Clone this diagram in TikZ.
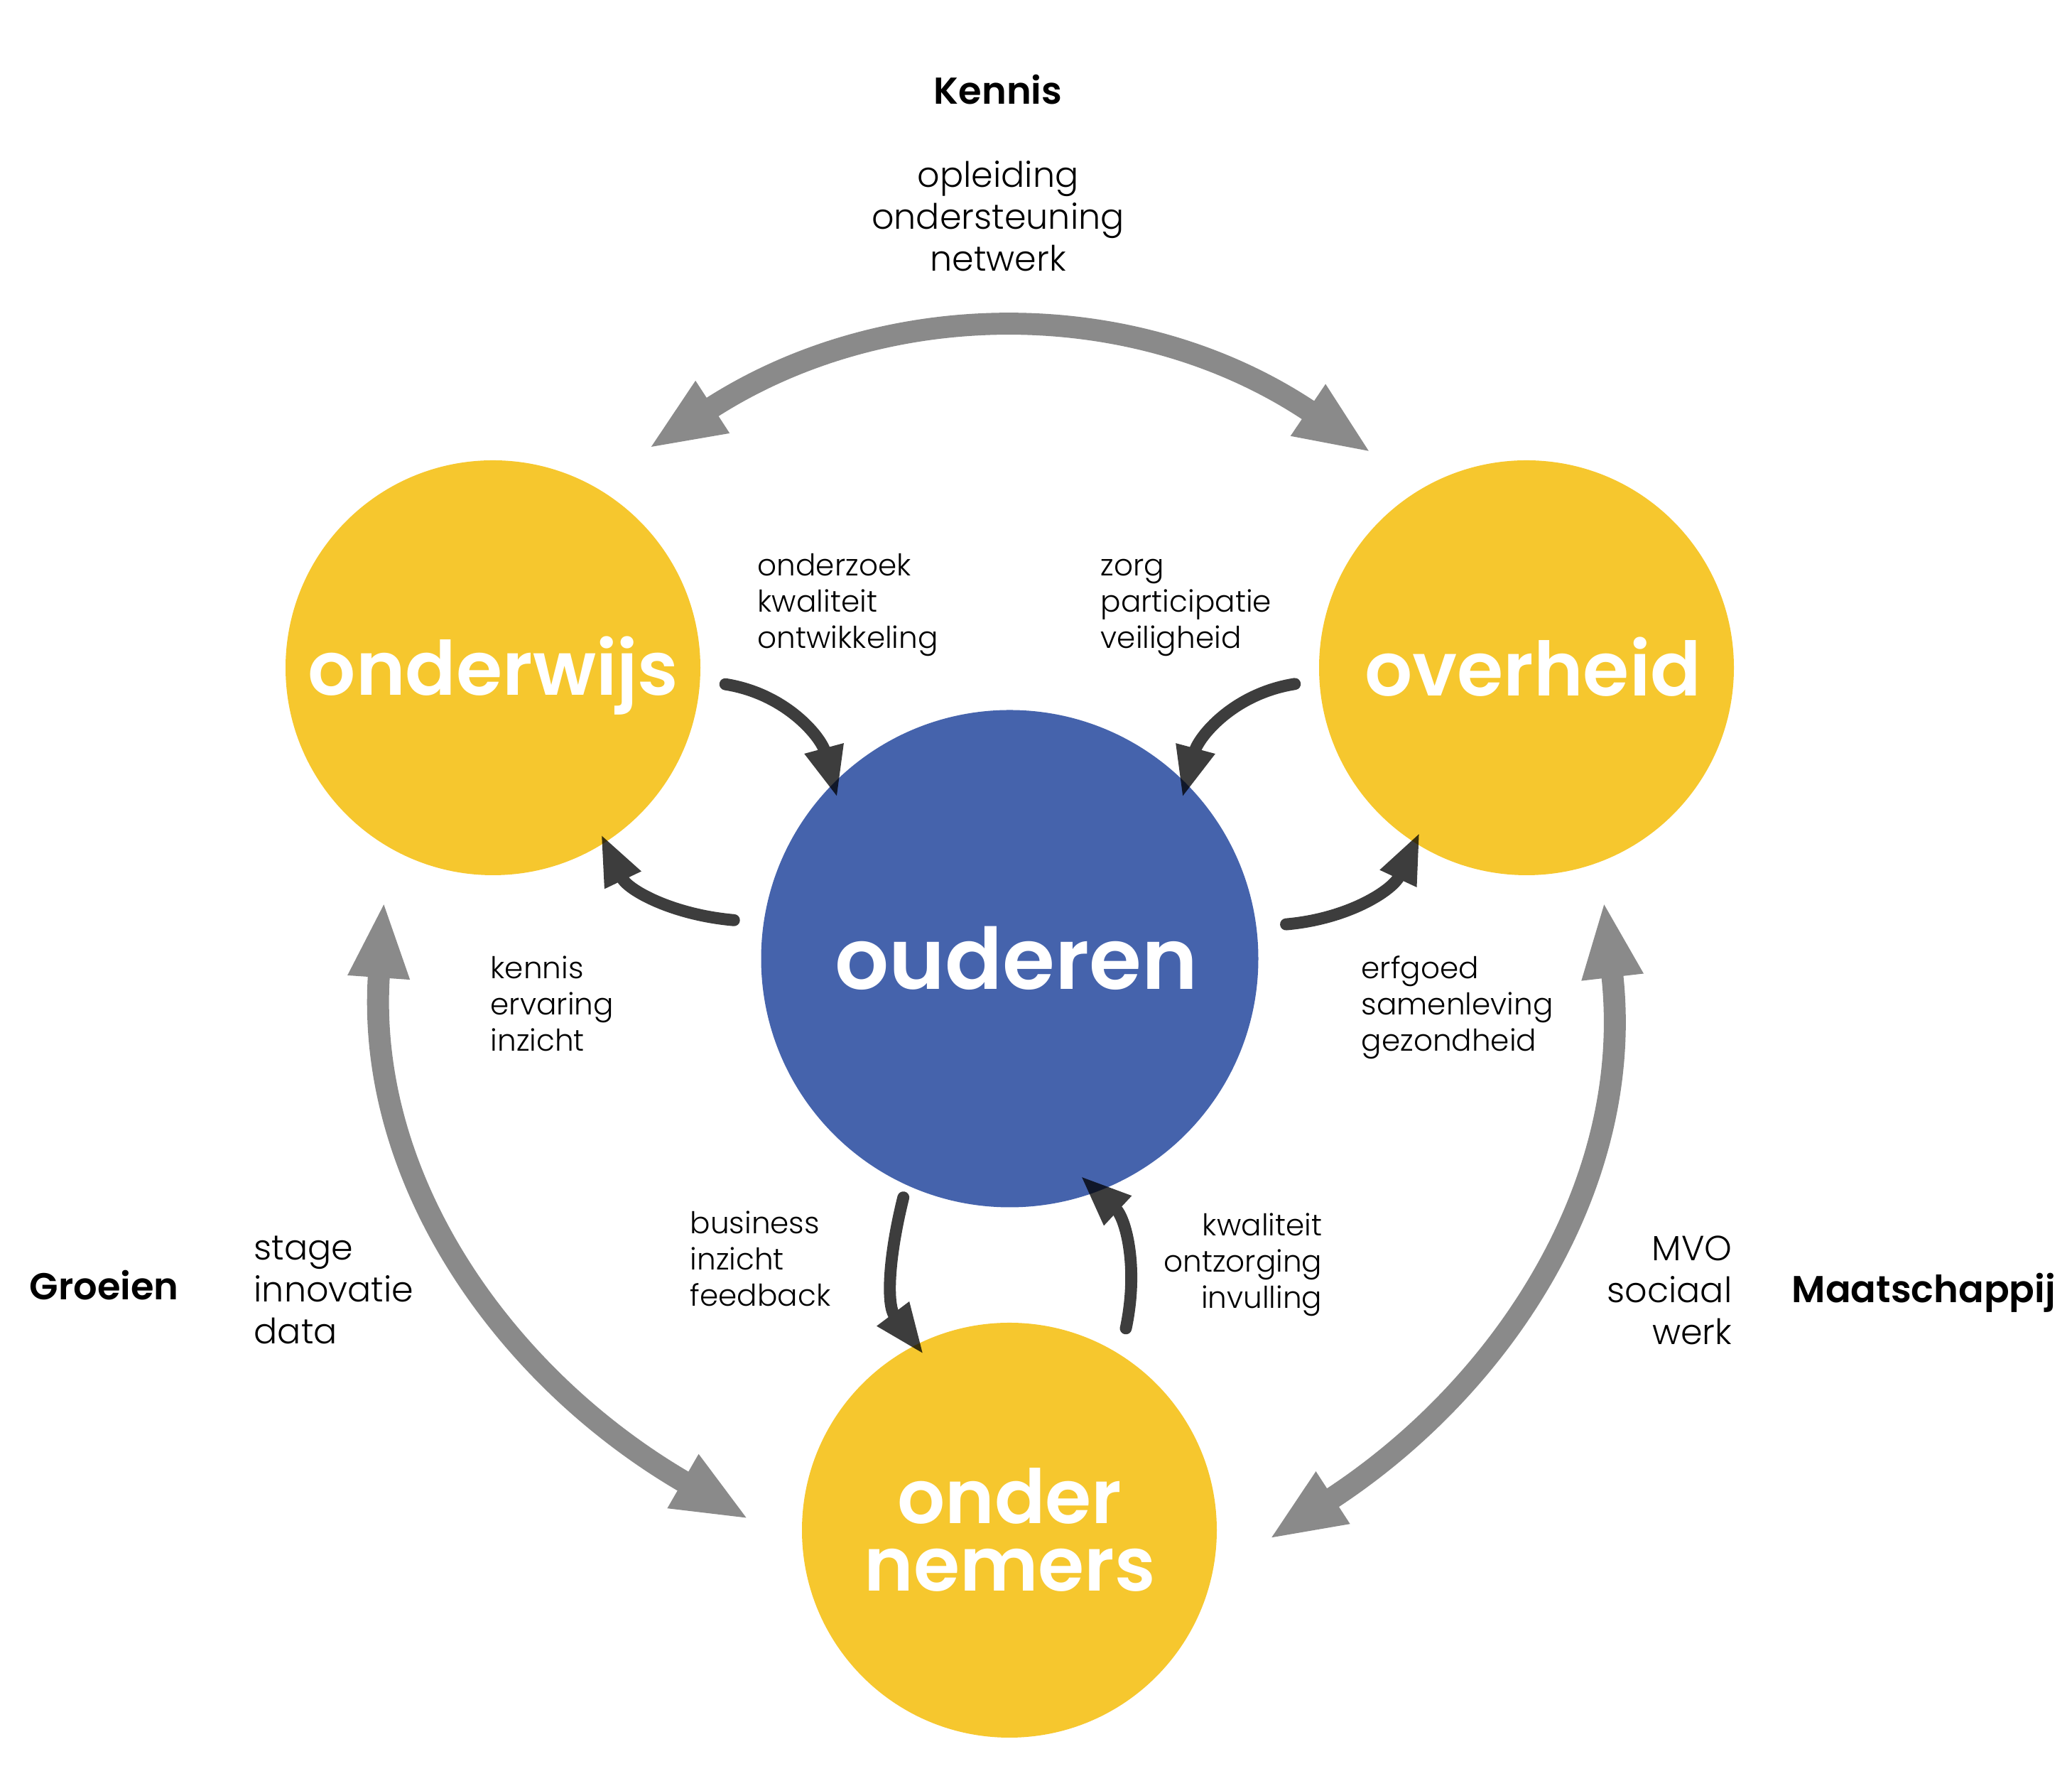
\documentclass[tikz,border=0pt]{standalone}
\usepackage{fontspec}
\setmainfont{Poppins}[UprightFont=* Light,BoldFont=* SemiBold]
\usetikzlibrary{arrows.meta}
\definecolor{geel}{RGB}{246,199,46}
\definecolor{blauw}{RGB}{69,99,172}
\definecolor{grijs}{RGB}{138,138,138}
\tikzset{
  bol/.style={circle,fill=geel,minimum size=5.84cm,inner sep=0,outer sep=0},
  kern/.style={bol,fill=blauw,minimum size=7cm},
  naam/.style={anchor=base,align=center,text=white,font=\bfseries\fontsize{30}{27.2}\selectfont},
  kop/.style={anchor=base west,inner sep=0,font=\bfseries\fontsize{15}{18}\selectfont},
  rij/.style={anchor=base west,align=left,inner sep=0,font=\fontsize{14}{16.9}\selectfont},
  klein/.style={anchor=base west,align=left,inner sep=0,font=\fontsize{12}{14.6}\selectfont},
  pijl/.style={line width=4.8pt,line cap=round,-{Triangle[length=7.2mm,width=5.2mm]}},
  boog/.style={grijs,line width=8.8pt,{Triangle[length=10.8mm,width=7.9mm]}-{Triangle[length=10.8mm,width=7.9mm]}}
}

\begin{document}
\begin{tikzpicture}[x=1cm,y=1cm]
  \useasboundingbox (0,0) rectangle (29.17,25);
  \foreach \n/\x/\y in {onderwijs/6.94/15.6, overheid/21.49/15.6, ondernemers/14.21/3.46}
    \node[bol] (\n) at (\x,\y) {};
  \node[kern] (ouderen) at (14.215,11.505) {};

  \node[naam] (t-onderwijs) at (6.945,15.21) {onderwijs};
  \node[naam] (t-overheid) at (21.58,15.2) {overheid};
  \node[naam,font=\bfseries\fontsize{34}{40}\selectfont] (t-ouderen) at (14.31,11.07) {ouderen};
  \node[naam] (t-ondernemers) at (14.215,2.6) {onder\\nemers};

  \coordinate (k-l) at (9.126,18.683);
  \coordinate (k-r) at (19.31,18.624);
  \coordinate (g-o) at (5.407,12.317);
  \coordinate (g-b) at (10.55,3.61);
  \coordinate (m-o) at (22.577,12.317);
  \coordinate (m-b) at (17.86,3.33);
  \draw[boog] (k-l) to[out=33,in=146] (k-r);
  \draw[boog] (g-o) to[out=266,in=150] (g-b);
  \draw[boog] (m-o) to[out=276.6,in=33] (m-b);

  \begin{scope}[transparency group,opacity=0.76]
    \draw[pijl] ([shift={(-4.5:0.36)}]onderwijs.-4.5) to[out=-9,in=105] ([shift={(137:-0.18)}]ouderen.137);
    \draw[pijl] ([shift={(184:0.35)}]overheid.184) to[out=189,in=75] ([shift={(43.5:-0.18)}]ouderen.43.5);
    \draw[pijl] ([shift={(172.5:0.42)}]ouderen.172.5) to[out=175,in=-64.5] ([shift={(-57:-0.13)}]onderwijs.-57);
    \draw[pijl] ([shift={(7.8:0.42)}]ouderen.7.8) to[out=5,in=-115] ([shift={(-123.6:-0.16)}]overheid.-123.6);
    \draw[pijl] ([shift={(-114.3:0.18)}]ouderen.-114.3) to[out=-104,in=127] ([shift={(116:-0.17)}]ondernemers.116);
    \draw[pijl] ([shift={(60:0.36)}]ondernemers.60) to[out=78,in=-43] ([shift={(-72.4:-0.285)}]ouderen.-72.4);
  \end{scope}

  \node[kop,anchor=base] (kennis) at (14.05,23.53) {Kennis};
  \node[rij,anchor=base,align=center] (kennis-l) at (14.05,21.18) {opleiding\\ondersteuning\\netwerk};
  \node[kop] (groeien) at (0.41,6.7) {Groeien};
  \node[rij] (groeien-l) at (3.57,6.08) {stage\\innovatie\\data};
  \node[kop] (maatschappij) at (25.22,6.66) {Maatschappij};
  \node[rij,anchor=base east,align=right] (maatschappij-l) at (24.39,6.07) {MVO\\sociaal\\werk};

  \node[klein] (l-onderwijs) at (10.66,15.87) {onderzoek\\kwaliteit\\ontwikkeling};
  \node[klein] (l-overheid) at (15.49,15.87) {zorg\\participatie\\veiligheid};
  \node[klein] (l-terug) at (6.9,10.2) {kennis\\ervaring\\inzicht};
  \node[klein] (l-erfgoed) at (19.16,10.2) {erfgoed\\samenleving\\gezondheid};
  \node[klein] (l-business) at (9.71,6.61) {business\\inzicht\\feedback};
  \node[klein,anchor=base east,align=right] (l-ondernemers) at (18.62,6.58) {kwaliteit\\ontzorging\\invulling};
\end{tikzpicture}
\end{document}
